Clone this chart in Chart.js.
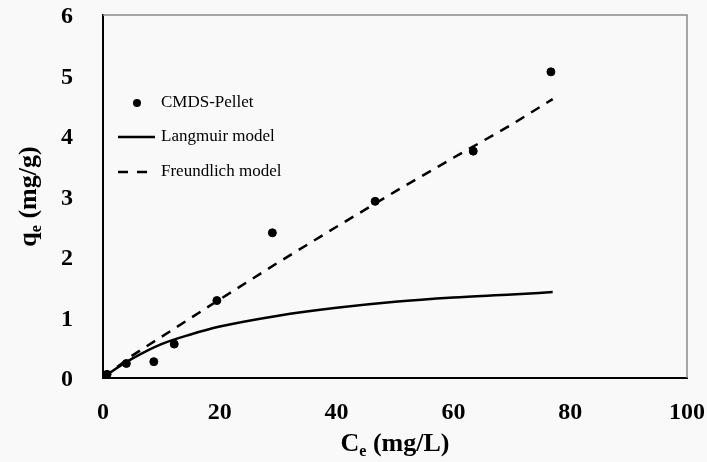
<!DOCTYPE html>
<html>
<head>
<meta charset="utf-8">
<script src="https://cdn.jsdelivr.net/npm/chart.js@4.4.1/dist/chart.umd.min.js"></script>
<style>
  html, body { margin: 0; padding: 0; background: #f9f9f9; }
  #wrap { width: 707px; height: 462px; }
</style>
</head>
<body>
<div id="wrap"><canvas id="chart"></canvas></div>
<script>
// measured points
const ceData = [0.7, 4.0, 8.7, 12.2, 19.5, 29.0, 46.6, 63.4, 76.7];
const qeData = [0.06, 0.24, 0.27, 0.56, 1.28, 2.40, 2.92, 3.75, 5.06];

// model curves
const langmuirCe = [0, 2, 5, 10, 15, 20, 30, 40, 50, 60, 70, 77];
const langmuirQe = [0, 0.14, 0.32, 0.56, 0.72, 0.85, 1.03, 1.16, 1.26, 1.33, 1.38, 1.42];

const freundlichCe = [0, 1, 5, 10, 20, 30, 40, 50, 60, 70, 77];
const freundlichQe = [0, 0.08, 0.37, 0.68, 1.30, 1.91, 2.50, 3.08, 3.64, 4.19, 4.61];

const xTicks = [0, 20, 40, 60, 80, 100];
const yTicks = [0, 1, 2, 3, 4, 5, 6];

const toXY = (xs, ys) => xs.map((x, i) => ({ x: x, y: ys[i] }));

const serif = '"Liberation Serif", "Times New Roman", serif';

// frame, legend and axis titles (with subscripts)
const decorations = {
  id: 'decorations',
  afterDraw(chart) {
    const { ctx, chartArea: a } = chart;
    ctx.save();

    // grey frame on top and right
    ctx.strokeStyle = '#8a8a8a';
    ctx.lineWidth = 1.5;
    ctx.beginPath();
    ctx.moveTo(a.left, a.top);
    ctx.lineTo(a.right, a.top);
    ctx.lineTo(a.right, a.bottom);
    ctx.stroke();

    // legend
    const ds = chart.data.datasets;
    ctx.fillStyle = '#000';
    ctx.font = '17px ' + serif;
    ctx.textBaseline = 'middle';
    ctx.textAlign = 'left';
    const lx = 118, tx = 161;
    const rows = [103, 137, 172];

    ctx.beginPath();
    ctx.arc(137, rows[0], 4, 0, Math.PI * 2);
    ctx.fill();
    ctx.fillText(ds[0].label, tx, rows[0]);

    ctx.strokeStyle = '#000';
    ctx.lineWidth = 2.5;
    ctx.beginPath();
    ctx.moveTo(lx, rows[1]);
    ctx.lineTo(155, rows[1]);
    ctx.stroke();
    ctx.fillText(ds[1].label, tx, rows[1]);

    ctx.setLineDash([10, 9]);
    ctx.beginPath();
    ctx.moveTo(lx, rows[2]);
    ctx.lineTo(155, rows[2]);
    ctx.stroke();
    ctx.setLineDash([]);
    ctx.fillText(ds[2].label, tx, rows[2]);

    // axis title helper: main letter + subscript + rest
    const drawTitle = (main, sub, rest, cx, cy, rotate) => {
      const big = 'bold 26px ' + serif;
      const small = 'bold 16px ' + serif;
      ctx.font = big;
      const w1 = ctx.measureText(main).width;
      const w3 = ctx.measureText(rest).width;
      ctx.font = small;
      const w2 = ctx.measureText(sub).width;
      const total = w1 + w2 + w3;
      ctx.save();
      ctx.translate(cx, cy);
      if (rotate) ctx.rotate(-Math.PI / 2);
      ctx.textBaseline = 'alphabetic';
      let x = -total / 2;
      ctx.font = big;
      ctx.fillText(main, x, 7);
      x += w1;
      ctx.font = small;
      ctx.fillText(sub, x, 12);
      x += w2;
      ctx.font = big;
      ctx.fillText(rest, x, 7);
      ctx.restore();
    };

    drawTitle('C', 'e', ' (mg/L)', (a.left + a.right) / 2, 444, false);
    drawTitle('q', 'e', ' (mg/g)', 29, (a.top + a.bottom) / 2, true);

    ctx.restore();
  }
};

new Chart(document.getElementById('chart'), {
  type: 'scatter',
  data: {
    datasets: [
      {
        label: 'CMDS-Pellet',
        data: toXY(ceData, qeData),
        backgroundColor: '#000',
        borderColor: '#000',
        pointRadius: 4,
        showLine: false,
        order: 0
      },
      {
        label: 'Langmuir model',
        data: toXY(langmuirCe, langmuirQe),
        borderColor: '#000',
        borderWidth: 2.5,
        pointRadius: 0,
        showLine: true,
        tension: 0.4,
        cubicInterpolationMode: 'monotone',
        order: 1
      },
      {
        label: 'Freundlich model',
        data: toXY(freundlichCe, freundlichQe),
        borderColor: '#000',
        borderWidth: 2.5,
        borderDash: [10, 8],
        pointRadius: 0,
        showLine: true,
        order: 2
      }
    ]
  },
  options: {
    responsive: true,
    maintainAspectRatio: false,
    animation: false,
    layout: { padding: { top: 15, right: 20, left: 0, bottom: 0 } },
    plugins: {
      legend: { display: false },
      tooltip: { enabled: false }
    },
    scales: {
      x: {
        type: 'linear',
        min: 0,
        max: 100,
        afterFit: (s) => { s.height = 84; s.paddingLeft = 0; s.paddingRight = 0; },
        afterBuildTicks: (s) => { s.ticks = xTicks.map(v => ({ value: v })); },
        grid: { display: false, drawTicks: false },
        border: { display: true, color: '#000', width: 2 },
        ticks: {
          padding: 20,
          color: '#000',
          font: { family: serif, size: 24, weight: 'bold' }
        }
      },
      y: {
        type: 'linear',
        min: 0,
        max: 6,
        afterFit: (s) => { s.width = 103; s.paddingTop = 0; s.paddingBottom = 0; },
        afterBuildTicks: (s) => { s.ticks = yTicks.map(v => ({ value: v })); },
        grid: { display: false, drawTicks: false },
        border: { display: true, color: '#000', width: 2 },
        ticks: {
          padding: 30,
          labelOffset: 2,
          color: '#000',
          font: { family: serif, size: 24, weight: 'bold' }
        }
      }
    }
  },
  plugins: [decorations]
});
</script>
</body>
</html>
